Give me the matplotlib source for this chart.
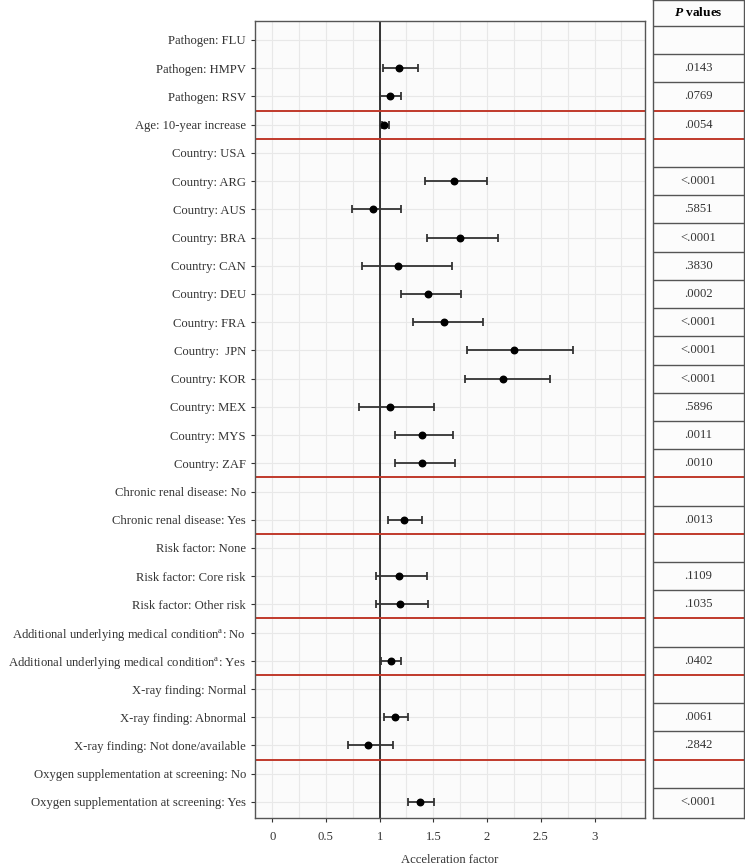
import numpy as np
import matplotlib.pyplot as plt
from matplotlib.ticker import MultipleLocator

plt.rcParams['font.family'] = ['Liberation Serif', 'DejaVu Serif']
plt.rcParams['mathtext.fontset'] = 'custom'
plt.rcParams['mathtext.rm'] = 'Liberation Serif'
plt.rcParams['mathtext.it'] = 'Liberation Serif:italic:bold'

labels = [
    'Pathogen: FLU', 'Pathogen: HMPV', 'Pathogen: RSV',
    'Age: 10-year increase',
    'Country: USA', 'Country: ARG', 'Country: AUS', 'Country: BRA', 'Country: CAN',
    'Country: DEU', 'Country: FRA', 'Country:  JPN', 'Country: KOR', 'Country: MEX',
    'Country: MYS', 'Country: ZAF',
    'Chronic renal disease: No', 'Chronic renal disease: Yes',
    'Risk factor: None', 'Risk factor: Core risk', 'Risk factor: Other risk',
    r'Additional underlying medical condition$^{\mathrm{a}}$: No',
    r'Additional underlying medical condition$^{\mathrm{a}}$: Yes',
    'X-ray finding: Normal', 'X-ray finding: Abnormal', 'X-ray finding: Not done/available',
    'Oxygen supplementation at screening: No', 'Oxygen supplementation at screening: Yes',
]
groups = ['Pathogen'] * 3 + ['Age'] + ['Country'] * 12 + ['CRD'] * 2 + ['Risk'] * 3 \
    + ['AUMC'] * 2 + ['Xray'] * 3 + ['Oxygen'] * 2

est = [None, 1.18, 1.10, 1.04, None, 1.69, 0.94, 1.75, 1.17, 1.45, 1.60, 2.25, 2.15, 1.10,
       1.39, 1.39, None, 1.23, None, 1.18, 1.19, None, 1.11, None, 1.14, 0.89, None, 1.38]
lo = [None, 1.035, 1.00, 1.02, None, 1.42, 0.745, 1.445, 0.835, 1.20, 1.31, 1.81, 1.795, 0.805,
      1.145, 1.14, None, 1.08, None, 0.97, 0.97, None, 1.01, None, 1.04, 0.71, None, 1.26]
hi = [None, 1.36, 1.20, 1.085, None, 2.00, 1.195, 2.105, 1.67, 1.76, 1.96, 2.80, 2.585, 1.505,
      1.685, 1.70, None, 1.39, None, 1.44, 1.45, None, 1.20, None, 1.26, 1.12, None, 1.505]
pvals = ['', '.0143', '.0769', '.0054', '', '<.0001', '.5851', '<.0001', '.3830', '.0002',
         '<.0001', '<.0001', '<.0001', '.5896', '.0011', '.0010', '', '.0013', '', '.1109',
         '.1035', '', '.0402', '', '.0061', '.2842', '', '<.0001']

txt = '#333333'
red = '#c0392b'
edge = '#555555'
fs = 9.1
n = len(labels)
y = np.arange(n)
ymin, ymax = 27.57, -0.673
seps = [i + 0.5 for i in range(n - 1) if groups[i] != groups[i + 1]]

fig = plt.figure(figsize=(7.45, 8.64), dpi=100)
ax = fig.add_axes([255 / 745, 1 - 818 / 864, 390 / 745, 797 / 864])
ax.set_facecolor('#fbfbfb')

idx = [i for i in range(n) if est[i] is not None]
e = np.array([est[i] for i in idx])
l = np.array([lo[i] for i in idx])
h = np.array([hi[i] for i in idx])
ax.errorbar(e, idx, xerr=[e - l, h - e], fmt='none', ecolor='#333333', elinewidth=1.3,
            capsize=3, capthick=1.3, zorder=3)
ax.scatter(e, idx, s=22, color='black', zorder=4)
ax.axvline(1, color='black', lw=1.1, zorder=2)
for s in seps:
    ax.axhline(s, color=red, lw=1.4, zorder=2)

ax.set_xlim(-0.16, 3.47)
ax.set_ylim(ymin, ymax)
ax.set_xticks([0, 0.5, 1, 1.5, 2, 2.5, 3])
ax.set_xticklabels(['0', '0.5', '1', '1.5', '2', '2.5', '3'])
ax.xaxis.set_minor_locator(MultipleLocator(0.25))
ax.set_yticks(y)
ax.set_yticklabels(labels)
ax.grid(which='both', color='#e8e8e8', lw=0.8, zorder=0)
ax.set_axisbelow(True)
ax.tick_params(axis='both', which='major', colors=txt, labelsize=fs, length=3, width=0.8)
ax.tick_params(axis='x', which='minor', length=0)
ax.tick_params(axis='x', pad=6)
for sp in ax.spines.values():
    sp.set_color(edge)
    sp.set_linewidth(1.0)
ax.set_xlabel('Acceleration factor', color=txt, fontsize=fs, labelpad=8)

# P-value table
tb = fig.add_axes([653 / 745, 1 - 818 / 864, 91 / 745, 818 / 864])
tb.set_xlim(0, 1)
top = -40 / 28.22
tb.set_ylim(ymin, top)
tb.set_facecolor('#fcfcfc')
tb.set_xticks([])
tb.set_yticks([])
for sp in tb.spines.values():
    sp.set_color(edge)
    sp.set_linewidth(1.0)
tb.axhline(-0.5, color=edge, lw=1.0)
for i in range(n - 1):
    b = i + 0.5
    tb.axhline(b, color=red if b in seps else edge, lw=1.4 if b in seps else 1.0)
tb.text(0.5, (top - 0.5) / 2, r'$\mathit{P}$ values', ha='center', va='center',
        fontsize=fs + 0.5, fontweight='bold', color='black')
for i, p in enumerate(pvals):
    if p:
        tb.text(0.5, i, p, ha='center', va='center', fontsize=fs, color=txt)

fig.savefig('out.png', dpi=100)
